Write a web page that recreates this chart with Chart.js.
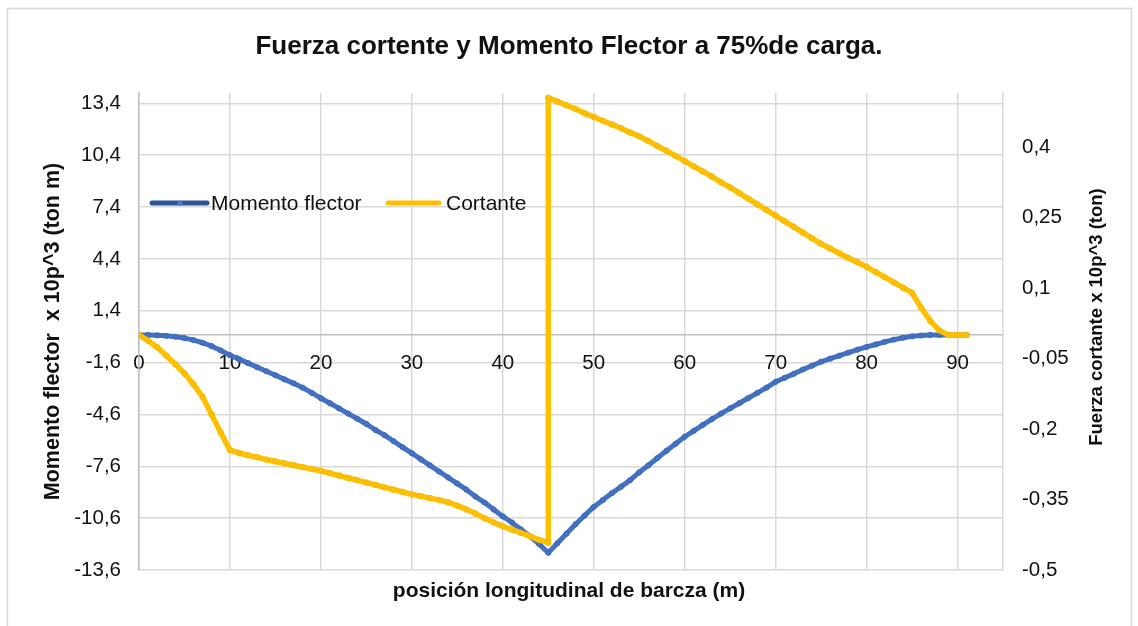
<!DOCTYPE html>
<html>
<head>
<meta charset="utf-8">
<script src="https://cdn.jsdelivr.net/npm/chart.js@4.4.1/dist/chart.umd.min.js"></script>
<style>
html,body{margin:0;padding:0;background:#fff;}
#wrap{width:1138px;height:626px;}
</style>
</head>
<body>
<div id="wrap"><canvas id="c" width="1138" height="626"></canvas></div>
<script>
// ---- data ----
const chartTitle = 'Fuerza cortente y Momento Flector a 75%de carga.';
const xTitle = 'posición longitudinal de barcza (m)';
const leftTitle = 'Momento flector  x 10p^3 (ton m)';
const rightTitle = 'Fuerza cortante x 10p^3 (ton)';
const seriesNames = ['Momento flector', 'Cortante'];

const posMomento = [0,1,2,3,4,5,6,7,8,9,10,11,12,13,14,15,16,17,18,19,20,21,22,23,24,25,26,27,28,29,30,31,32,33,34,35,36,37,38,39,40,41,42,43,44,45,46,47,48,49,50,51,52,53,54,55,56,57,58,59,60,61,62,63,64,65,66,67,68,69,70,71,72,73,74,75,76,77,78,79,80,81,82,83,84,85,86,87,88,89,90,91];
const momentoFlector = [0,0,-0.02,-0.05,-0.1,-0.18,-0.3,-0.45,-0.65,-0.9,
  -1.17,-1.4,-1.63,-1.87,-2.1,-2.33,-2.57,-2.8,-3.05,-3.35,
  -3.66,-3.95,-4.25,-4.55,-4.85,-5.15,-5.5,-5.8,-6.15,-6.5,
  -6.84,-7.2,-7.55,-7.9,-8.25,-8.6,-8.95,-9.35,-9.7,-10.1,
  -10.5,-10.85,-11.25,-11.65,-12.1,-12.6,-12.05,-11.5,-10.95,-10.45,
  -9.95,-9.55,-9.15,-8.78,-8.4,-7.95,-7.55,-7.12,-6.7,-6.3,
  -5.89,-5.55,-5.2,-4.87,-4.55,-4.25,-3.95,-3.65,-3.35,-3.05,
  -2.71,-2.48,-2.25,-2.0,-1.78,-1.55,-1.37,-1.2,-1.02,-0.85,
  -0.69,-0.55,-0.4,-0.27,-0.16,-0.08,-0.03,0,0,0,
  0,0];

const posCortante = [0,1,2,3,4,5,6,7,8,9,10,11,12,13,14,15,16,17,18,19,20,21,22,23,24,25,26,27,28,29,30,31,32,33,34,35,36,37,38,39,40,41,42,43,44,45,45,46,47,48,49,50,51,52,53,54,55,56,57,58,59,60,61,62,63,64,65,66,67,68,69,70,71,72,73,74,75,76,77,78,79,80,81,82,83,84,85,86,87,88,89,90,91];
const cortante = [0,-0.012,-0.026,-0.044,-0.062,-0.082,-0.105,-0.132,-0.17,-0.208,
  -0.245,-0.251,-0.256,-0.26,-0.265,-0.269,-0.273,-0.277,-0.281,-0.285,
  -0.289,-0.294,-0.299,-0.304,-0.309,-0.314,-0.319,-0.324,-0.329,-0.334,
  -0.339,-0.343,-0.347,-0.351,-0.356,-0.363,-0.371,-0.38,-0.39,-0.399,
  -0.407,-0.414,-0.421,-0.428,-0.436,-0.442,
  0.505,0.497,0.489,0.481,0.472,
  0.464,0.456,0.448,0.44,0.431,0.423,0.413,0.402,0.392,0.381,
  0.37,0.359,0.348,0.337,0.325,0.314,0.302,0.29,0.278,0.266,
  0.254,0.242,0.23,0.218,0.206,0.194,0.184,0.174,0.164,0.155,
  0.145,0.134,0.123,0.112,0.101,0.09,0.058,0.03,0.01,0,
  0,0];

const xTicks = [0,10,20,30,40,50,60,70,80,90];
const leftTicks = [-13.6,-10.6,-7.6,-4.6,-1.6,1.4,4.4,7.4,10.4,13.4];
const rightTicks = [-0.5,-0.35,-0.2,-0.05,0.1,0.25,0.4];

// ---- chart ----
const FONT = '"Liberation Sans", Arial, sans-serif';
const TXT = '#111111';
const fmt = v => String(v).replace('.', ',');

const decor = {
  id: 'decor',
  beforeDraw(chart) {
    const c = chart.ctx;
    c.save();
    c.fillStyle = '#ffffff';
    c.fillRect(0, 0, chart.width, chart.height);
    c.strokeStyle = '#d9d9d9';
    c.lineWidth = 1.5;
    c.strokeRect(7.5, 8.5, 1124, 640);
    c.restore();
  },
  afterDraw(chart) {
    const c = chart.ctx;
    const a = chart.chartArea;
    c.save();
    // legend
    const ly = 203;
    c.lineCap = 'round';
    c.lineWidth = 5;
    c.strokeStyle = '#2F5597';
    c.beginPath(); c.moveTo(a.left + 13, ly); c.lineTo(a.left + 68, ly); c.stroke();
    c.fillStyle = '#4A7BD0';
    c.beginPath(); c.arc(a.left + 41, ly, 2.6, 0, Math.PI * 2); c.fill();
    c.strokeStyle = '#FFC000';
    c.beginPath(); c.moveTo(a.left + 249, ly); c.lineTo(a.left + 300, ly); c.stroke();
    c.font = '21px ' + FONT;
    c.fillStyle = TXT;
    c.textBaseline = 'middle';
    c.textAlign = 'left';
    c.fillText(seriesNames[0], a.left + 72, ly + 1);
    c.fillText(seriesNames[1], a.left + 307, ly + 1);
    // right axis title (reads bottom to top)
    c.translate(1097, 317);
    c.rotate(-Math.PI / 2);
    c.textAlign = 'center';
    c.font = 'bold 18.5px ' + FONT;
    c.fillText(rightTitle, 0, 0);
    c.restore();
  }
};

new Chart(document.getElementById('c'), {
  type: 'line',
  data: {
    datasets: [
      {
        label: seriesNames[0],
        data: posMomento.map((x, i) => ({x: x, y: momentoFlector[i]})),
        yAxisID: 'y',
        borderColor: '#4472C4',
        backgroundColor: '#4472C4',
        borderWidth: 5,
        pointRadius: 2.6,
        pointBackgroundColor: '#4472C4',
        pointBorderColor: '#3A64AE',
        pointBorderWidth: 0.8,
        borderCapStyle: 'round',
        borderJoinStyle: 'round',
        tension: 0,
        order: 1
      },
      {
        label: seriesNames[1],
        data: posCortante.map((x, i) => ({x: x, y: cortante[i]})),
        yAxisID: 'y1',
        borderColor: '#FFC000',
        backgroundColor: '#FFC000',
        borderWidth: 5.5,
        pointRadius: 2.8,
        pointBackgroundColor: '#FFC000',
        pointBorderColor: '#F2B600',
        pointBorderWidth: 0.8,
        borderCapStyle: 'round',
        borderJoinStyle: 'round',
        tension: 0,
        order: 0
      }
    ]
  },
  options: {
    responsive: false,
    devicePixelRatio: 1,
    animation: false,
    events: [],
    layout: {padding: 0},
    plugins: {
      legend: {display: false},
      tooltip: {enabled: false},
      title: {
        display: true,
        text: chartTitle,
        color: TXT,
        font: {family: FONT, size: 26, weight: 'bold'},
        padding: {top: 31.4, bottom: 30.4}
      },
      subtitle: {
        display: true,
        position: 'bottom',
        text: xTitle,
        color: TXT,
        font: {family: FONT, size: 21, weight: 'bold'},
        padding: {top: 8.4, bottom: 22.4}
      }
    },
    scales: {
      x: {
        type: 'linear',
        position: {y: 0},
        min: 0,
        max: 95,
        afterBuildTicks: s => { s.ticks = xTicks.map(v => ({value: v})); },
        ticks: {
          autoSkip: false,
          maxRotation: 0,
          padding: 16,
          color: TXT,
          font: {family: FONT, size: 20.5},
          callback: v => fmt(v)
        },
        grid: {color: '#d9d9d9', lineWidth: 1.5, drawTicks: false},
        border: {display: true, color: '#bfbfbf', width: 1.5}
      },
      y: {
        type: 'linear',
        position: 'left',
        min: -13.6,
        max: 14.0,
        afterBuildTicks: s => { s.ticks = leftTicks.map(v => ({value: v})); },
        afterFit: s => { s.width = 139; },
        ticks: {
          autoSkip: false,
          padding: 18,
          color: TXT,
          font: {family: FONT, size: 20.5},
          callback: v => fmt(v)
        },
        grid: {color: '#d9d9d9', lineWidth: 1.5, drawTicks: false},
        border: {display: true, color: '#bfbfbf', width: 1.5},
        title: {
          display: true,
          text: leftTitle,
          color: TXT,
          font: {family: FONT, size: 21.5, weight: 'bold'},
          padding: {top: 40.6, bottom: 0}
        }
      },
      y1: {
        type: 'linear',
        position: 'right',
        min: -0.5,
        max: 0.515,
        afterBuildTicks: s => { s.ticks = rightTicks.map(v => ({value: v})); },
        afterFit: s => { s.width = 135; },
        ticks: {
          autoSkip: false,
          padding: 19,
          color: TXT,
          font: {family: FONT, size: 20.5},
          callback: v => fmt(v)
        },
        grid: {display: false, drawTicks: false},
        border: {display: true, color: '#d9d9d9', width: 1.5}
      }
    }
  },
  plugins: [decor]
});
</script>
</body>
</html>
